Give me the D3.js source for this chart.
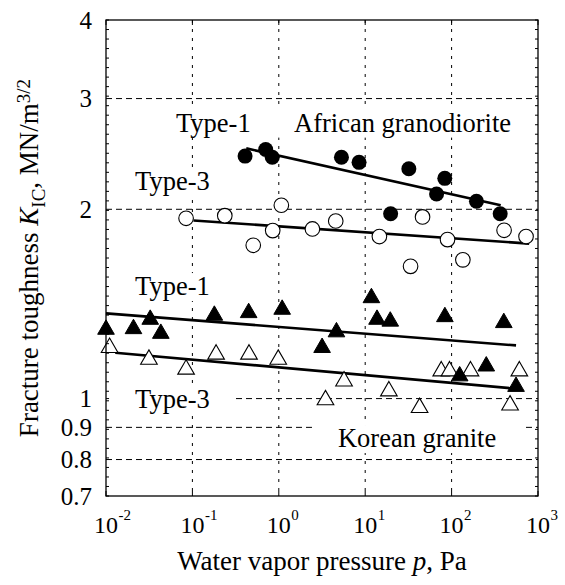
<!DOCTYPE html>
<html><head><meta charset="utf-8">
<script src="https://cdn.jsdelivr.net/npm/d3@7"></script>
<style>
body{margin:0;background:#fff}
svg{display:block}
text{font-family:"Liberation Serif","Times New Roman",serif;fill:#000}
</style>
</head><body>
<svg id="c" width="565" height="585"></svg>
<script>
// ---- axis / tick data ----
const xTickValues = [0.01, 0.1, 1, 10, 100, 1000];
const xTickExponents = ["-2", "-1", "0", "1", "2", "3"];
const yTickValues = [0.7, 0.8, 0.9, 1, 2, 3, 4];
const yTickLabels = ["0.7", "0.8", "0.9", "1", "2", "3", "4"];
const xGridValues = [0.1, 1, 10, 100];
const yGridValues = [0.8, 0.9, 1, 2, 3];

// ---- series: [water vapor pressure p (Pa), K_IC (MN/m^3/2)] ----
const africanType1 = [[0.407,2.43],[0.705,2.49],[0.84,2.42],[5.31,2.42],[8.49,2.375],[32,2.32],[83.4,2.24],[67,2.115],[194,2.06],[19.7,1.968],[365,1.968]];
const africanType3 = [[0.0845,1.935],[0.237,1.954],[1.07,2.03],[0.85,1.85],[0.506,1.753],[2.45,1.861],[4.56,1.916],[14.6,1.81],[46.1,1.945],[89.7,1.79],[135,1.662],[33.5,1.623],[405,1.852],[727,1.81]];
const koreanType1 = [[0.01,1.288],[0.0208,1.291],[0.0325,1.336],[0.0431,1.269],[0.1795,1.356],[0.448,1.369],[1.094,1.386],[3.17,1.205],[4.65,1.276],[11.8,1.446],[13.7,1.336],[19.5,1.327],[83.6,1.349],[402,1.32],[252,1.126],[124,1.086],[557,1.045]];
const koreanType3 = [[0.011,1.205],[0.0314,1.154],[0.0845,1.113],[0.188,1.176],[0.452,1.176],[0.985,1.154],[3.47,0.995],[5.69,1.066],[18.8,1.028],[42.6,0.967],[75.9,1.106],[94.6,1.106],[165.5,1.106],[475,0.976],[608,1.106]];

// ---- fitted trend lines ----
const africanLine1 = [[0.42,2.50],[370,2.03]];
const africanLine3 = [[0.103,1.92],[790,1.764]];
const koreanLine1 = [[0.01,1.366],[557,1.215]];
const koreanLine3 = [[0.0128,1.183],[557,1.037]];

// ---- annotation labels: text, p at left edge, K at baseline ----
const labelTexts = ["Type-1", "African granodiorite", "Type-3", "Type-1", "Type-3", "Korean granite"];
const labelP = [0.0646, 1.50, 0.0217, 0.0217, 0.0217, 4.84];
const labelK = [2.658, 2.658, 2.147, 1.461, 0.965, 0.8375];

const svg = d3.select("#c");
const L = 106, R = 538, T = 20, B = 496;
const x = d3.scaleLog().domain([0.01, 1000]).range([L, R]);
const y = d3.scaleLog().domain([0.7, 4]).range([B, T]);

// gridlines
const grid = svg.append("g");
grid.selectAll("line.v").data(xGridValues).join("line")
  .attr("x1", d => x(d)).attr("x2", d => x(d)).attr("y1", T).attr("y2", B)
  .attr("stroke", "#000").attr("stroke-width", 1).attr("stroke-dasharray", "3,6");
grid.selectAll("line.h").data(yGridValues).join("line")
  .attr("x1", L).attr("x2", R).attr("y1", d => y(d)).attr("y2", d => y(d))
  .attr("stroke", "#000").attr("stroke-width", 1).attr("stroke-dasharray", "6,4");

// labels with white backgrounds
const lab = svg.append("g");
labelTexts.forEach((t, i) => {
  const g = lab.append("g");
  const r = g.append("rect").attr("fill", "#fff");
  const tx = g.append("text").attr("x", x(labelP[i])).attr("y", y(labelK[i]))
    .attr("font-size", 26.5).text(t);
  const bb = tx.node().getBBox();
  const x0 = Math.max(L + 1, bb.x - 26), x1 = Math.min(R - 6, bb.x + bb.width + 26);
  r.attr("x", x0).attr("y", bb.y + 2).attr("width", x1 - x0).attr("height", bb.height - 2);
});

// trend lines
const line = d3.line().x(d => x(d[0])).y(d => y(d[1]));
[africanLine1, africanLine3, koreanLine1, koreanLine3].forEach(ld => {
  svg.append("path").attr("d", line(ld)).attr("fill", "none")
    .attr("stroke", "#000").attr("stroke-width", 2.6);
});

// markers
const tri = d3.symbol().type(d3.symbolTriangle).size(120);
svg.append("g").selectAll("path").data(koreanType3).join("path")
  .attr("d", tri).attr("transform", d => `translate(${x(d[0])},${y(d[1])})`)
  .attr("fill", "#fff").attr("stroke", "#000").attr("stroke-width", 1.1);
svg.append("g").selectAll("path").data(koreanType1).join("path")
  .attr("d", tri).attr("transform", d => `translate(${x(d[0])},${y(d[1])})`)
  .attr("fill", "#000").attr("stroke", "#000").attr("stroke-width", 1);
svg.append("g").selectAll("circle").data(africanType3).join("circle")
  .attr("cx", d => x(d[0])).attr("cy", d => y(d[1])).attr("r", 7.3)
  .attr("fill", "#fff").attr("stroke", "#000").attr("stroke-width", 1.1);
svg.append("g").selectAll("circle").data(africanType1).join("circle")
  .attr("cx", d => x(d[0])).attr("cy", d => y(d[1])).attr("r", 7.5)
  .attr("fill", "#000");

// frame
svg.append("rect").attr("x", L).attr("y", T).attr("width", R - L).attr("height", B - T)
  .attr("fill", "none").attr("stroke", "#000").attr("stroke-width", 1.3);

// minor ticks on left/right frames (uniform in log space)
const minor = d3.range(51).map(i => y.invert(T + i * (B - T) / 50));
const tk = svg.append("g").attr("stroke", "#000").attr("stroke-width", 1);
tk.selectAll("line.l").data(minor).join("line")
  .attr("x1", L).attr("x2", L + 3).attr("y1", d => y(d)).attr("y2", d => y(d));
tk.selectAll("line.r").data(minor).join("line")
  .attr("x1", R - 3).attr("x2", R).attr("y1", d => y(d)).attr("y2", d => y(d));
tk.selectAll("line.b").data(xTickValues).join("line")
  .attr("x1", d => x(d)).attr("x2", d => x(d)).attr("y1", B).attr("y2", B - 5);
tk.selectAll("line.t").data(xTickValues).join("line")
  .attr("x1", d => x(d)).attr("x2", d => x(d)).attr("y1", T).attr("y2", T + 5);

// y tick labels
svg.append("g").selectAll("text").data(yTickValues).join("text")
  .attr("x", 92).attr("y", d => y(d)).attr("dy", "0.34em")
  .attr("text-anchor", "end").attr("font-size", 25)
  .text((d, i) => yTickLabels[i]);

// x tick labels 10^n
const xl = svg.append("g");
xTickValues.forEach((v, i) => {
  const t = xl.append("text").attr("x", x(v)).attr("y", 533)
    .attr("text-anchor", "middle").attr("font-size", 24).text("10");
  const bb = t.node().getBBox();
  xl.append("text").attr("x", bb.x + bb.width + 0.5).attr("y", 520)
    .attr("font-size", 15).text(xTickExponents[i]);
});

// x title
const xt = svg.append("text").attr("x", (L + R) / 2).attr("y", 570)
  .attr("text-anchor", "middle").attr("font-size", 27);
xt.append("tspan").text("Water vapor pressure ");
xt.append("tspan").attr("font-style", "italic").text("p");
xt.append("tspan").text(", Pa");

// y title
const yt = svg.append("text")
  .attr("transform", `translate(38,${(T + B) / 2}) rotate(-90)`)
  .attr("text-anchor", "middle").attr("font-size", 27);
yt.append("tspan").text("Fracture toughness ");
yt.append("tspan").attr("font-style", "italic").text("K");
yt.append("tspan").attr("font-size", 19).attr("dy", 7).text("IC");
yt.append("tspan").attr("dy", -7).text(", MN/m");
yt.append("tspan").attr("font-size", 19).attr("dy", -8).text("3/2");
</script>
</body></html>
